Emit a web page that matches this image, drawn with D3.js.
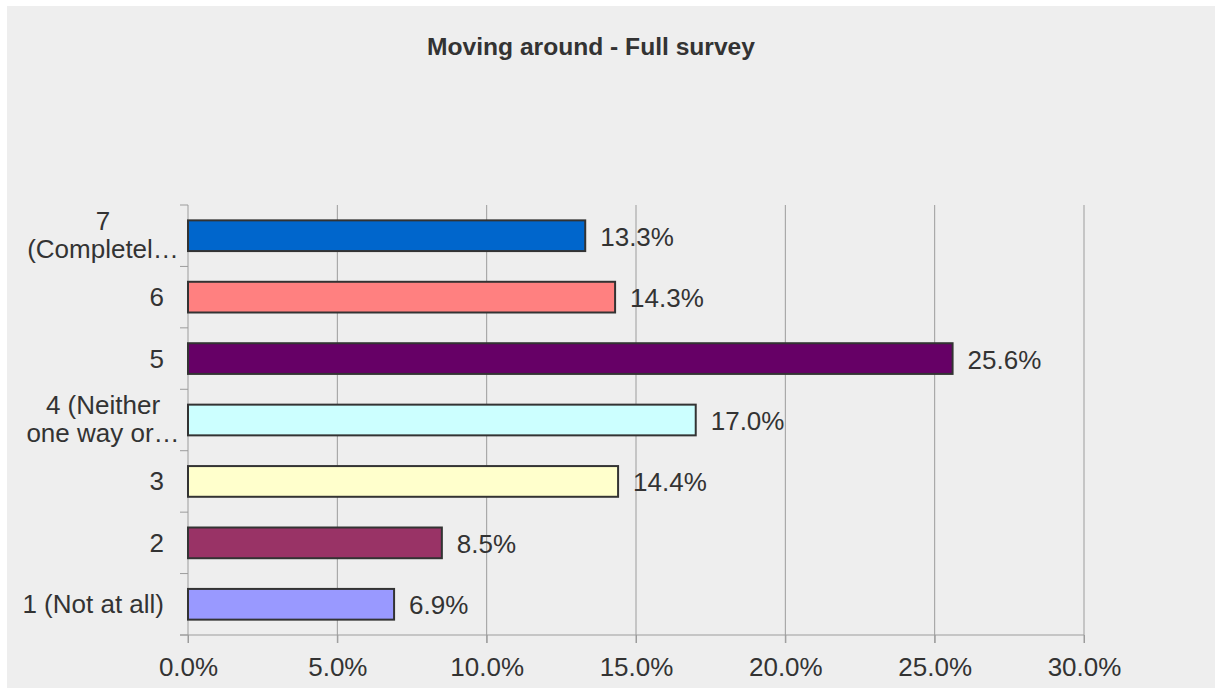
<!DOCTYPE html>
<html>
<head>
<meta charset="utf-8">
<script src="https://cdn.jsdelivr.net/npm/d3@7/dist/d3.min.js"></script>
<style>
  html, body { margin: 0; padding: 0; background: #ffffff; }
  svg { display: block; }
  text { font-family: "Liberation Sans", Arial, sans-serif; fill: #333333; }
</style>
</head>
<body>
<svg id="chart" width="1215" height="688"></svg>
<script>
// ---- data ----
const title = "Moving around - Full survey";
const categories = ["7 (Completel…", "6", "5", "4 (Neither one way or…", "3", "2", "1 (Not at all)"];
const categoryLines = [["7", "(Completel…"], ["6"], ["5"], ["4 (Neither", "one way or…"], ["3"], ["2"], ["1 (Not at all)"]];
const values = [13.3, 14.3, 25.6, 17.0, 14.4, 8.5, 6.9];
const colors = ["#0066cc", "#ff8080", "#660066", "#ccffff", "#ffffcc", "#993366", "#9999ff"];
const xTicks = [0, 5, 10, 15, 20, 25, 30];

// ---- layout ----
const W = 1215, H = 688;
const FS = 26;
const margin = { left: 188, right: 131, top: 205, bottom: 53 };
const svg = d3.select("#chart");

svg.append("rect").attr("x", 7).attr("y", 6).attr("width", W - 7).attr("height", H - 6).attr("fill", "#eeeeee");

const x = d3.scaleLinear().domain([0, 30]).range([margin.left, W - margin.right]);
const y = d3.scaleBand().domain(categories).range([margin.top, H - margin.bottom]).paddingInner(0.5).paddingOuter(0.25);
const yb = d3.scaleBand().domain(categories).range([margin.top, H - margin.bottom]);

// title
svg.append("text").attr("x", 591).attr("y", 55).attr("text-anchor", "middle")
  .attr("font-size", 24.6).attr("font-weight", "bold").text(title);

// gridlines (extend below axis as tick marks)
svg.append("g").selectAll("line").data(xTicks.filter(d => d > 0)).join("line")
  .attr("x1", d => x(d)).attr("x2", d => x(d))
  .attr("y1", margin.top).attr("y2", H - margin.bottom + 8)
  .attr("stroke", "#9c9c9c").attr("stroke-width", 1);

// x axis
const xAxis = d3.axisBottom(x).tickValues(xTicks).tickSize(8).tickSizeOuter(0)
  .tickFormat(d => d.toFixed(1) + "%");
const gx = svg.append("g").attr("transform", `translate(0,${H - margin.bottom})`).call(xAxis);
gx.select(".domain").remove();
gx.append("line").attr("x1", margin.left - 8).attr("x2", x(30)).attr("y1", 0).attr("y2", 0).attr("stroke", "#9c9c9c");
gx.selectAll(".tick line").attr("stroke", "#9c9c9c");
gx.selectAll(".tick text").attr("font-size", FS).attr("fill", "#333333").attr("dy", 0).attr("y", 41)
  .style("font-family", '"Liberation Sans", Arial, sans-serif');

// y axis line + band-boundary ticks
const gy = svg.append("g");
gy.append("line").attr("x1", margin.left).attr("x2", margin.left)
  .attr("y1", margin.top).attr("y2", H - margin.bottom + 8).attr("stroke", "#9c9c9c");
const bounds = categories.map(c => yb(c)).concat([yb(categories[categories.length - 1]) + yb.bandwidth()]);
gy.selectAll("line.tk").data(bounds).join("line").attr("class", "tk")
  .attr("x1", margin.left - 8).attr("x2", margin.left).attr("y1", d => d).attr("y2", d => d)
  .attr("stroke", "#9c9c9c");

// category labels
categories.forEach((c, i) => {
  const lines = categoryLines[i];
  const cy = yb(c) + yb.bandwidth() / 2;
  if (lines.length === 1) {
    svg.append("text").attr("x", 164).attr("y", cy + 9).attr("text-anchor", "end")
      .attr("font-size", FS).text(lines[0]);
  } else {
    lines.forEach((l, j) => {
      svg.append("text").attr("x", 103).attr("y", cy - 6 + j * 28).attr("text-anchor", "middle")
        .attr("font-size", FS).text(l);
    });
  }
});

// bars
svg.append("g").selectAll("rect").data(values).join("rect")
  .attr("x", x(0)).attr("y", (d, i) => y(categories[i]))
  .attr("width", d => x(d) - x(0)).attr("height", y.bandwidth())
  .attr("fill", (d, i) => colors[i]).attr("stroke", "#333333").attr("stroke-width", 2);

// value labels
svg.append("g").selectAll("text").data(values).join("text")
  .attr("x", d => x(d) + 15).attr("y", (d, i) => yb(categories[i]) + yb.bandwidth() / 2 + 10)
  .attr("font-size", FS).text(d => d.toFixed(1) + "%");
</script>
</body>
</html>
